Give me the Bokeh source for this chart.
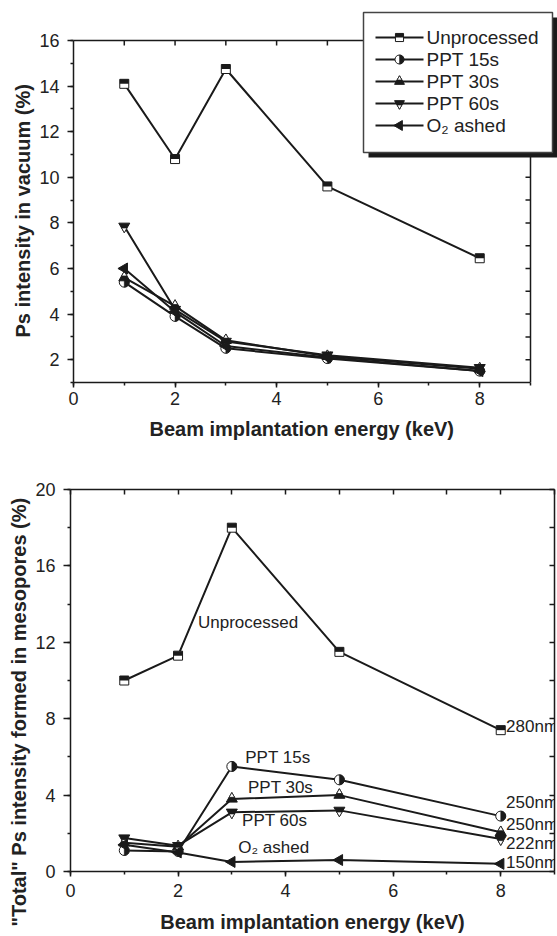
import math
from bokeh.plotting import figure
from bokeh.layouts import column
from bokeh.models import (Range1d, LinearAxis, SingleIntervalTicker,
                          ColumnDataSource, Title)
from bokeh.core.properties import value
from bokeh.embed import file_html
from bokeh.resources import INLINE

# ---------------- data ----------------
energy = [1, 2, 3, 5, 8]
series_names = ["Unprocessed", "PPT 15s", "PPT 30s", "PPT 60s", "O\u2082 ashed"]
series_kinds = ["square", "circle", "tri_up", "tri_down", "tri_left"]

vac_unprocessed = [14.1, 10.8, 14.75, 9.6, 6.45]
vac_ppt15 = [5.4, 3.9, 2.5, 2.05, 1.5]
vac_ppt30 = [5.6, 4.35, 2.85, 2.15, 1.6]
vac_ppt60 = [7.85, 4.2, 2.8, 2.2, 1.65]
vac_o2 = [6.0, 4.1, 2.6, 2.1, 1.5]

meso_unprocessed = [10.0, 11.3, 18.0, 11.5, 7.4]
meso_ppt15 = [1.1, 1.05, 5.5, 4.8, 2.9]
meso_ppt30 = [1.5, 1.3, 3.8, 4.0, 2.05]
meso_ppt60 = [1.75, 1.35, 3.1, 3.2, 1.7]
meso_o2 = [1.4, 1.0, 0.5, 0.6, 0.4]

curve_labels = ["Unprocessed", "PPT 15s", "PPT 30s", "PPT 60s", "O\u2082 ashed"]
curve_label_x = [2.37, 3.25, 3.3, 3.19, 3.12]
curve_label_y = [13.05, 5.95, 4.4, 2.65, 1.25]

thickness_labels = ["280nm", "250nm", "250nm", "222nm", "150nm"]
thickness_x = [8.1, 8.1, 8.1, 8.1, 8.1]
thickness_y = [7.6, 3.6, 2.45, 1.46, 0.47]

x_title = "Beam implantation energy (keV)"
top_y_title = "Ps intensity in vacuum (%)"
bottom_y_title = "\"Total\" Ps intensity formed in mesopores (%)"

x_bounds = (0, 9)
top_y_bounds = (1, 16)
bottom_y_range = (0, 20)
top_spine_ticks_x = [1, 2, 3, 4, 5, 6, 7, 8]
top_right_ticks_y = [2, 3, 4, 5, 6, 7, 8, 9, 10, 11, 12, 13, 14, 15]

# ---------------- style / geometry (pixels) ----------------
INK = "#1a1a1a"
TXT = "#222222"
FONT = "Liberation Sans"
W = 557

# top panel: visible axes box in canvas pixels
T_LEFT, T_RIGHT, T_TOP, T_BOTTOM = 73, 530, 40, 382
T_CANVAS_H = 450
T_FRAME_TOP = 4
px_per_x1 = (T_RIGHT - T_LEFT) / (x_bounds[1] - x_bounds[0])
px_per_y1 = (T_BOTTOM - T_TOP) / (top_y_bounds[1] - top_y_bounds[0])
x_end1 = x_bounds[1] + (W - T_RIGHT) / px_per_x1
y_end1 = top_y_bounds[1] + (T_TOP - T_FRAME_TOP) / px_per_y1

# legend box layout (canvas pixels)
LG_LEFT, LG_RIGHT, LG_TOP, LG_BOTTOM = 363, 552, 12, 152
LG_ROW0, LG_PITCH = 37, 22
LG_LINE0, LG_LINE1, LG_TEXT = 375, 423, 426
SHADOW = 5

# bottom panel
B_LEFT, B_RIGHT, B_TOP, B_BOTTOM = 70, 554, 489, 871
B_CANVAS_H = 936 - T_CANVAS_H


def style_axis(ax, tick_out, minor_out, standoff, title_standoff):
    ax.axis_line_color = INK
    ax.axis_line_width = 1.5
    ax.major_tick_line_color = INK
    ax.major_tick_line_width = 1.5
    ax.minor_tick_line_color = INK
    ax.minor_tick_line_width = 1.5
    ax.major_tick_in = 0
    ax.major_tick_out = tick_out
    ax.minor_tick_in = 0
    ax.minor_tick_out = minor_out
    ax.major_label_text_font = FONT
    ax.major_label_text_font_size = "18px"
    ax.major_label_text_color = TXT
    ax.major_label_standoff = standoff
    ax.axis_label_text_font = FONT
    ax.axis_label_text_font_size = "20px"
    ax.axis_label_text_font_style = "bold"
    ax.axis_label_text_color = TXT
    ax.axis_label_standoff = title_standoff


def mirror_axis(p, side, interval):
    ax = LinearAxis(ticker=SingleIntervalTicker(interval=interval, num_minor_ticks=0))
    ax.axis_line_color = INK
    ax.axis_line_width = 1.5
    ax.major_tick_line_color = INK
    ax.major_tick_line_width = 1.5
    ax.major_tick_in = 5
    ax.major_tick_out = 0
    ax.minor_tick_line_color = None
    ax.major_label_text_color = None
    ax.major_label_text_font_size = "1px"
    ax.major_label_standoff = 0
    p.add_layout(ax, side)


def add_markers(p, xs, ys, kind, dpp, scale=1.0):
    sq, ci, tr = 9 * scale, 10 * scale, 11 * scale
    if kind == "square":
        p.scatter(xs, ys, marker="square", size=sq, fill_color="white",
                  line_color=INK, line_width=1)
        p.rect(xs, [v + sq / 4 * dpp for v in ys], width=sq, height=sq / 2,
               width_units="screen", height_units="screen",
               fill_color=INK, line_color=None)
    elif kind == "circle":
        p.scatter(xs, ys, marker="circle", size=ci, fill_color="white",
                  line_color=INK, line_width=1)
        p.wedge(x=xs, y=ys, radius=ci / 2, radius_units="screen",
                start_angle=-math.pi / 2, end_angle=math.pi / 2,
                fill_color=INK, line_color=INK, line_width=0.5)
    elif kind == "tri_up":
        p.scatter(xs, ys, marker="triangle", size=tr, fill_color=INK,
                  line_color=INK, line_width=1)
        off = tr * math.sqrt(3) / 6
        p.scatter(xs, [v + off * dpp for v in ys], marker="triangle", size=tr / 2,
                  fill_color="white", line_color=INK, line_width=0.8)
    elif kind == "tri_down":
        p.scatter(xs, ys, marker="inverted_triangle", size=tr, fill_color=INK,
                  line_color=INK, line_width=1)
        off = tr * math.sqrt(3) / 6
        p.scatter(xs, [v - off * dpp for v in ys], marker="inverted_triangle", size=tr / 2,
                  fill_color="white", line_color=INK, line_width=0.8)
    else:
        p.scatter(xs, ys, marker="triangle", size=tr, angle=math.pi / 2,
                  fill_color=INK, line_color=INK, line_width=1)


def title_model(text, offset, standoff):
    return Title(text=text, align="left", offset=offset, standoff=standoff,
                 text_font=FONT, text_font_size="20px", text_font_style="bold",
                 text_color=TXT)


# ---------------- top figure (frame extended up/right so the legend fits) -----
p1 = figure(width=W, height=T_CANVAS_H,
            x_range=Range1d(x_bounds[0], x_end1), y_range=Range1d(top_y_bounds[0], y_end1),
            output_backend="svg", toolbar_location=None,
            min_border_left=T_LEFT, min_border_right=0,
            min_border_top=T_FRAME_TOP, min_border_bottom=T_CANVAS_H - T_BOTTOM)
p1.frame_align = False
p1.grid.visible = False
p1.outline_line_color = None
p1.background_fill_color = "white"
p1.border_fill_color = "white"
xa = p1.xaxis[0]
ya = p1.yaxis[0]
xa.ticker = SingleIntervalTicker(interval=2, num_minor_ticks=2)
ya.ticker = SingleIntervalTicker(interval=2, num_minor_ticks=2)
xa.bounds = x_bounds
ya.bounds = top_y_bounds
style_axis(xa, 5, 3, 4, 10)
style_axis(ya, 6, 3, 8, 4)
# axis titles centred on the visible box (the frame is wider than the box)
p1.add_layout(title_model(x_title, 76, 17), "below")
p1.add_layout(title_model(top_y_title, 45, 5), "left")

# top & right spines of the visible box, with inward ticks
tick_dy = 5 / px_per_y1
tick_dx = 5 / px_per_x1
p1.segment(x0=[x_bounds[0], x_bounds[1]], y0=[top_y_bounds[1], top_y_bounds[0]],
           x1=[x_bounds[1], x_bounds[1]], y1=[top_y_bounds[1], top_y_bounds[1]],
           line_color=INK, line_width=1.5)
p1.segment(x0=top_spine_ticks_x, y0=[top_y_bounds[1]] * len(top_spine_ticks_x),
           x1=top_spine_ticks_x, y1=[top_y_bounds[1] - tick_dy] * len(top_spine_ticks_x),
           line_color=INK, line_width=1.5)
p1.segment(x0=[x_bounds[1]] * len(top_right_ticks_y), y0=top_right_ticks_y,
           x1=[x_bounds[1] - tick_dx] * len(top_right_ticks_y), y1=top_right_ticks_y,
           line_color=INK, line_width=1.5)

dpp1 = 1 / px_per_y1
vac_series = [vac_unprocessed, vac_ppt15, vac_ppt30, vac_ppt60, vac_o2]
for ys, kind in zip(vac_series, series_kinds):
    p1.line(energy, ys, line_color=INK, line_width=2)
    add_markers(p1, energy, ys, kind, dpp1)


# ---------------- legend (box with drop shadow), drawn last -------------
def px_x(px):
    return x_bounds[0] + (px - T_LEFT) / px_per_x1


def px_y(py):
    return top_y_bounds[1] - (py - T_TOP) / px_per_y1


p1.quad(left=[px_x(LG_LEFT + SHADOW)], right=[px_x(LG_RIGHT + SHADOW)],
        top=[px_y(LG_TOP + SHADOW)], bottom=[px_y(LG_BOTTOM + SHADOW)],
        fill_color=INK, line_color=None)
p1.quad(left=[px_x(LG_LEFT)], right=[px_x(LG_RIGHT)],
        top=[px_y(LG_TOP)], bottom=[px_y(LG_BOTTOM)],
        fill_color="white", line_color="#444444", line_width=1.5)
n = len(series_names)
row_y = [px_y(LG_ROW0 + i * LG_PITCH) for i in range(n)]
p1.segment(x0=[px_x(LG_LINE0)] * n, y0=row_y, x1=[px_x(LG_LINE1)] * n, y1=row_y,
           line_color=INK, line_width=2)
icon_x = px_x((LG_LINE0 + LG_LINE1) / 2)
for yv, kind in zip(row_y, series_kinds):
    add_markers(p1, [icon_x], [yv], kind, dpp1, scale=0.9)
leg_src = ColumnDataSource(dict(x=[px_x(LG_TEXT)] * n, y=row_y, t=series_names))
p1.text(x="x", y="y", text="t", source=leg_src, text_font=value(FONT),
        text_font_size="19px", text_color=TXT, text_align="left", text_baseline="middle")

# ---------------- bottom figure ----------------
p2 = figure(width=W, height=B_CANVAS_H,
            x_range=Range1d(*x_bounds), y_range=Range1d(*bottom_y_range),
            output_backend="svg", toolbar_location=None,
            min_border_left=B_LEFT, min_border_right=W - B_RIGHT,
            min_border_top=B_TOP - T_CANVAS_H, min_border_bottom=936 - B_BOTTOM)
p2.frame_align = False
p2.grid.visible = False
p2.outline_line_color = None
p2.background_fill_color = "white"
p2.border_fill_color = "white"
xb = p2.xaxis[0]
yb = p2.yaxis[0]
xb.ticker = SingleIntervalTicker(interval=2, num_minor_ticks=2)
yb.ticker = SingleIntervalTicker(interval=4, num_minor_ticks=2)
xb.axis_label = x_title
style_axis(xb, 5, 3, 7, 11)
style_axis(yb, 7, 3, 8, 4)
p2.add_layout(title_model(bottom_y_title, -55, 5), "left")
mirror_axis(p2, "above", 1)
mirror_axis(p2, "right", 2)

dpp2 = (bottom_y_range[1] - bottom_y_range[0]) / (B_BOTTOM - B_TOP)
meso_series = [meso_unprocessed, meso_ppt15, meso_ppt30, meso_ppt60, meso_o2]
for ys, kind in zip(meso_series, series_kinds):
    p2.line(energy, ys, line_color=INK, line_width=2)
    add_markers(p2, energy, ys, kind, dpp2)

lab_src = ColumnDataSource(dict(x=curve_label_x, y=curve_label_y, t=curve_labels))
p2.text(x="x", y="y", text="t", source=lab_src, text_font=value(FONT),
        text_font_size="17px", text_color=TXT, text_align="left", text_baseline="middle")
th_src = ColumnDataSource(dict(x=thickness_x, y=thickness_y, t=thickness_labels))
p2.text(x="x", y="y", text="t", source=th_src, text_font=value(FONT),
        text_font_size="17px", text_color=TXT, text_align="left", text_baseline="middle")

layout = column(p1, p2)
open("out.html", "w").write(file_html(layout, INLINE))
